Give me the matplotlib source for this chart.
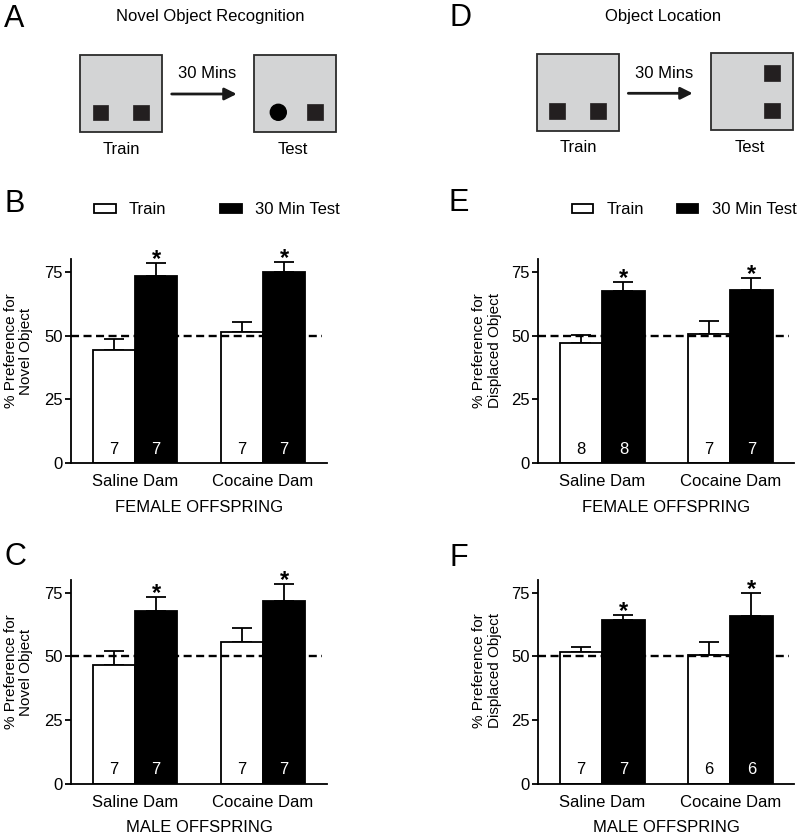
"""
Novel object recognition / object location in offspring of saline vs cocaine dams
"""

import matplotlib
matplotlib.use("Agg")
import matplotlib.pyplot as plt
from matplotlib.patches import Rectangle, Circle, Patch
import numpy as np

plt.rcParams["font.family"] = ["Liberation Sans", "DejaVu Sans"]
plt.rcParams["font.size"] = 12

# data (mean and upper SEM)
groups = ["Saline Dam", "Cocaine Dam"]

nor_female_train = [44.3, 51.5]
nor_female_train_err = [4.2, 3.7]
nor_female_test = [73.3, 75.0]
nor_female_test_err = [5.1, 3.6]
nor_female_n = [7, 7]

nor_male_train = [46.5, 55.7]
nor_male_train_err = [5.5, 5.3]
nor_male_test = [68.0, 71.7]
nor_male_test_err = [5.3, 6.6]
nor_male_n = [7, 7]

ol_female_train = [47.1, 50.7]
ol_female_train_err = [3.1, 4.9]
ol_female_test = [67.3, 67.8]
ol_female_test_err = [3.6, 4.6]
ol_female_n = [8, 7]

ol_male_train = [51.6, 50.4]
ol_male_train_err = [2.2, 5.3]
ol_male_test = [64.3, 66.0]
ol_male_test_err = [2.1, 8.8]
ol_male_n = [7, 6]

yticks = [0, 25, 50, 75]
legend_labels = ["Train", "30 Min Test"]

W, H = 800, 836
LW = 1.3
fig = plt.figure(figsize=(W / 100, H / 100), dpi=100)

# overlay in pixel coords for schematics and letters
ov = fig.add_axes([0, 0, 1, 1], zorder=0)
ov.set_xlim(0, W)
ov.set_ylim(H, 0)
ov.axis("off")
ov.patch.set_alpha(0)

BOX_FACE = "#d3d4d5"
BOX_EDGE = "#2b2b2b"
OBJ = "#231f20"


def arena(x0, y0, w=82, h=77):
    ov.add_patch(Rectangle((x0, y0), w, h, facecolor=BOX_FACE,
                           edgecolor=BOX_EDGE, lw=1.3))


def square(x0, y0, s=15.5):
    ov.add_patch(Rectangle((x0, y0), s, s, facecolor=OBJ, edgecolor=OBJ, lw=0.5))


def arrow(x0, x1, y):
    ov.annotate("", xy=(x1, y), xytext=(x0, y),
                arrowprops=dict(arrowstyle="-|>", color="#1a1a1a", lw=2,
                                mutation_scale=18, shrinkA=0, shrinkB=0))


# A: novel object recognition schematic
ov.text(210, 17, "Novel Object Recognition", ha="center", va="center")
arena(80, 55)
square(92.7, 104.5)
square(133.3, 104.5)
ov.text(121, 149, "Train", ha="center", va="center")
arrow(171.7, 236.7, 94)
ov.text(207, 74, "30 Mins", ha="center", va="center")
arena(254.3, 55)
ov.add_patch(Circle((278.3, 112.3), 8, facecolor="black", edgecolor="black"))
square(307.3, 104)
ov.text(292.5, 149, "Test", ha="center", va="center")

# D: object location schematic
ov.text(663, 16, "Object Location", ha="center", va="center")
arena(536.7, 54.3)
square(549.3, 103.3)
square(590, 103.3)
ov.text(578, 148, "Train", ha="center", va="center")
arrow(628.3, 692.7, 93.3)
ov.text(664, 73.3, "30 Mins", ha="center", va="center")
arena(711, 53.3)
square(764.3, 65)
square(764.3, 102.7)
ov.text(750, 147, "Test", ha="center", va="center")

for letter, (lx, ly) in {"A": (14.5, 19), "D": (460, 18.5), "B": (15, 204),
                         "E": (459, 203), "C": (15, 557), "F": (459, 558)}.items():
    ov.text(lx, ly, letter, fontsize=22, ha="center", va="center")


def bar_panel(rect, train, train_err, test, test_err, n, ylabel, xlabel,
              ylab_xy, legend_xy=None, colspace=3.2):
    ax = fig.add_axes(rect, zorder=2)
    ax.patch.set_alpha(0)
    x = np.arange(len(groups))
    w = 0.33
    ax.bar(x - w / 2, train, w, color="white", edgecolor="black", lw=LW, zorder=2)
    ax.bar(x + w / 2, test, w, color="black", edgecolor="black", lw=LW, zorder=2)
    zeros = np.zeros(len(groups))
    ax.errorbar(x - w / 2, train, yerr=[zeros, train_err], fmt="none",
                ecolor="black", elinewidth=LW, capsize=7, capthick=LW, zorder=1)
    ax.errorbar(x + w / 2, test, yerr=[zeros, test_err], fmt="none",
                ecolor="black", elinewidth=LW, capsize=7, capthick=LW, zorder=1)
    ax.plot([-0.5, 1.46], [50, 50], color="black", lw=1.7, dashes=(3.4, 1.9),
            zorder=3)
    for i in range(len(groups)):
        ax.text(x[i] + w / 2, test[i] + test_err[i] - 1.2, "*", ha="center",
                va="baseline", fontsize=17, fontweight="bold", clip_on=False)
        ax.text(x[i] - w / 2, 5.5, str(n[i]), ha="center", va="center",
                color="black", zorder=4)
        ax.text(x[i] + w / 2, 5.5, str(n[i]), ha="center", va="center",
                color="white", zorder=4)
    ax.set_xlim(-0.5, 1.5)
    ax.set_ylim(0, 80)
    ax.set_yticks(yticks)
    ax.set_xticks(x)
    ax.set_xticklabels(groups)
    ax.tick_params(axis="x", length=0, pad=8, labelsize=12)
    ax.tick_params(axis="y", length=4, width=LW, pad=2, labelsize=12)
    for side in ["top", "right"]:
        ax.spines[side].set_visible(False)
    for side in ["left", "bottom"]:
        ax.spines[side].set_linewidth(LW)
    ax.text(0.5, -0.214, xlabel, transform=ax.transAxes, ha="center",
            va="center")
    fig.text(ylab_xy[0] / W, 1 - ylab_xy[1] / H, ylabel, rotation=90,
             ha="center", va="center", fontsize=11, linespacing=1.15,
             multialignment="center")
    if legend_xy is not None:
        handles = [Patch(facecolor="white", edgecolor="black", lw=LW),
                   Patch(facecolor="black", edgecolor="black", lw=LW)]
        ax.legend(handles, legend_labels, ncol=2, frameon=False,
                  loc="center left",
                  bbox_to_anchor=(legend_xy[0] / W, 1 - legend_xy[1] / H),
                  bbox_transform=fig.transFigure, borderpad=0, borderaxespad=0,
                  handlelength=1.3, handleheight=0.5, handletextpad=0.8,
                  columnspacing=colspace)
    return ax


top_b, top_h = 0.4458, 0.2446
bot_b, bot_h = 0.0626, 0.2435
left_l, right_l, width = 0.0888, 0.6729, 0.32

bar_panel([left_l, top_b, width, top_h], nor_female_train, nor_female_train_err,
          nor_female_test, nor_female_test_err, nor_female_n,
          "% Preference for\nNovel Object", "FEMALE OFFSPRING", (18.5, 351),
          legend_xy=(94, 210))
bar_panel([left_l, bot_b, width, bot_h], nor_male_train, nor_male_train_err,
          nor_male_test, nor_male_test_err, nor_male_n,
          "% Preference for\nNovel Object", "MALE OFFSPRING", (18.5, 672))
bar_panel([right_l, top_b, width, top_h], ol_female_train, ol_female_train_err,
          ol_female_test, ol_female_test_err, ol_female_n,
          "% Preference for\nDisplaced Object", "FEMALE OFFSPRING", (487, 351),
          legend_xy=(571.7, 210), colspace=1.95)
bar_panel([right_l, bot_b, width, bot_h], ol_male_train, ol_male_train_err,
          ol_male_test, ol_male_test_err, ol_male_n,
          "% Preference for\nDisplaced Object", "MALE OFFSPRING", (487, 671))

fig.savefig("out.png", dpi=100)
